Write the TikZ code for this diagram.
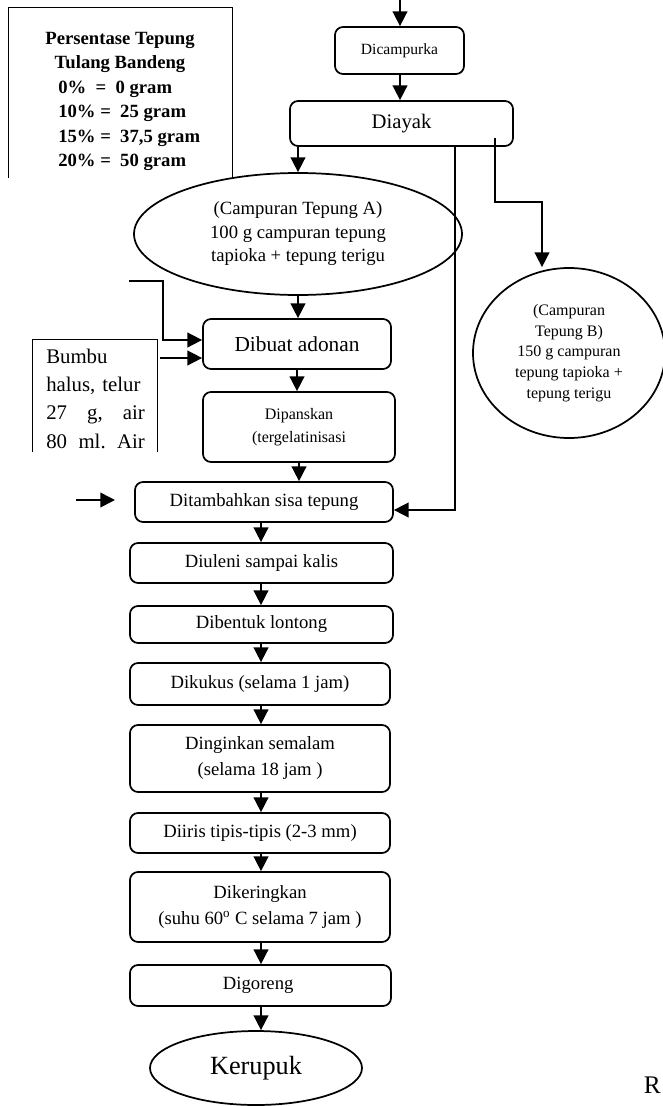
\documentclass[tikz,border=0pt]{standalone}
\usepackage{fontspec}
\setmainfont{Liberation Serif}
\usetikzlibrary{arrows.meta, shapes.geometric}

\tikzset{
	box/.style={draw, rounded corners=6pt, line width=1.3pt, align=center, inner sep=0pt},
	blob/.style={draw, ellipse, line width=1.3pt, align=center, inner sep=0pt},
	flow/.style={->, line width=1.2pt},
	frame/.style={line width=0.7pt}
}

\begin{document}
\begin{tikzpicture}[x=0.75pt, y=-0.75pt, >={Triangle[length=11pt,width=11pt]}]
	\useasboundingbox (0,0) rectangle (663,1106);
	
	% legend box
	\draw[frame] (8,178) -- (8,7) -- (232,7) -- (232,178);
	\node[font=\fontsize{14}{18.4}\selectfont\bfseries, align=center] (leghead) at (120,52.5) {Persentase Tepung\\Tulang Bandeng};
	\node[font=\fontsize{14}{18.4}\selectfont\bfseries, align=left, anchor=west, inner sep=0pt] (legval) at (58,126) {0\%~~=~~0 gram\\10\% =~~25 gram\\15\% =~~37,5 gram\\20\% =~~50 gram};
	
	% bumbu box
	\draw[frame] (32,452) -- (32,339) -- (157,339) -- (157,452);
	\node[font=\fontsize{15.6}{21.2}\selectfont, text width=74pt, align=left, anchor=north west, inner sep=0pt] (bumbu) at (46,348.5) {Bumbu\\\mbox{halus, telur}\\27\hfill g,\hfill air\\80\hfill ml.\hfill Air};
	
	% upper part
	\node[box, minimum width=96.75pt, minimum height=35.25pt, font=\fontsize{11.7}{14}\selectfont] (dicamp) at (399.5,50.5) {Dicampurka};
	\node[box, minimum width=167.25pt, minimum height=33.75pt, font=\fontsize{15.5}{18}\selectfont] (diayak) at (401.5,123.5) {Diayak};
	\node[blob, minimum width=246pt, minimum height=91.5pt, font=\fontsize{14}{17.6}\selectfont] (campA) at (298,234) {(Campuran Tepung A)\\100 g campuran tepung\\tapioka + tepung terigu};
	\node[blob, minimum width=144pt, minimum height=127.5pt, font=\fontsize{12}{15.6}\selectfont] (campB) at (569,353) {(Campuran\\Tepung B)\\150 g campuran\\tepung tapioka +\\tepung terigu};
	\node[box, minimum width=141pt, minimum height=37.5pt, font=\fontsize{16}{19}\selectfont] (adonan) at (297,344) {Dibuat adonan};
	\node[box, minimum width=144pt, minimum height=52.5pt, font=\fontsize{12}{17}\selectfont] (panas) at (299,427) {Dipanskan\\(tergelatinisasi};
	
	% lower chain
	\foreach \nm/\cx/\cy/\bw/\bh/\txt in {
		tambah/264/502/193.5/30/{Ditambahkan sisa tepung},
		uleni/261.5/563/197.25/30/{Diuleni sampai kalis},
		bentuk/261.5/624.5/197.25/27.75/{Dibentuk lontong},
		kukus/260/684/195/31.5/{Dikukus (selama 1 jam)},
		dingin/260/758.5/195/50.25/{Dinginkan semalam\\(selama 18 jam )},
		iris/260/833/195/30/{Diiris tipis-tipis (2-3 mm)},
		kering/260/907/195/52.5/{Dikeringkan\\(suhu 60\textsuperscript{o} C selama 7 jam )},
		goreng/260.5/985.5/195.75/30.75/{Digoreng}
	}{
		\node[box, minimum width=\bw pt, minimum height=\bh pt, font=\fontsize{14}{19.5}\selectfont] (\nm) at (\cx,\cy) {\txt};
	}
	\node[blob, minimum width=159pt, minimum height=55.5pt, font=\fontsize{19.7}{23}\selectfont] (kerupuk) at (256,1068) {Kerupuk};
	\node[font=\fontsize{19}{22}\selectfont, anchor=east, inner sep=0pt] (rlabel) at (661,1085) {R};
	
	% arrows, upper part
	\coordinate (topin) at (400,0);
	\draw[flow] (topin) -- (topin |- dicamp.north);
	\draw[flow] (dicamp.south -| topin) -- (diayak.north -| topin);
	\draw[flow] (diayak.south -| campA.north) -- (campA.north);
	\coordinate (bstart) at (495,138);
	\coordinate (bturn) at (542,202);
	\draw[flow] (bstart) |- (bturn) -- (bturn |- campB.north);
	\coordinate (sisa) at (455,510);
	\draw[flow] (diayak.south -| sisa) -- (sisa) -- (sisa -| tambah.east);
	
	% inputs
	\coordinate (inA) at (129,281);
	\coordinate (inAturn) at (163,340);
	\draw[flow] (inA) -| (inAturn) -- (inAturn -| adonan.west);
	\coordinate (inB) at (160,358);
	\draw[flow] (inB) -- (inB -| adonan.west);
	\coordinate (inC) at (76,500);
	\coordinate (inCend) at (115,500);
	\draw[flow] (inC) -- (inCend);
	
	\draw[flow] (campA.south) -- (campA.south |- adonan.north);
	\draw[flow] (adonan.south) -- (adonan.south |- panas.north);
	\draw[flow] (panas.south) -- (panas.south |- tambah.north);
	
	% arrows, lower chain
	\coordinate (axis) at (261,0);
	\foreach \a/\b in {tambah/uleni, uleni/bentuk, bentuk/kukus, kukus/dingin, dingin/iris, iris/kering, kering/goreng, goreng/kerupuk}{
		\draw[flow] (\a.south -| axis) -- (\b.north -| axis);
	}
	
\end{tikzpicture}
\end{document}
